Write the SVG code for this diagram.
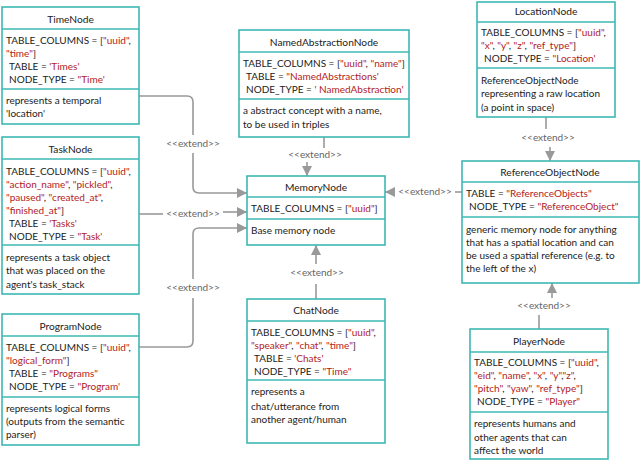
<svg xmlns="http://www.w3.org/2000/svg" width="640" height="461" viewBox="0 0 640 461">
<style>
.box{fill:#fff;stroke:#3db8b4;stroke-width:1.6}
.div{stroke:#3db8b4;stroke-width:1.4}
text{font-family:Lato,"Open Sans","Liberation Sans",sans-serif;font-size:10px;fill:#222}
.t{font-size:10.2px;text-anchor:middle;fill:#222}
.s{fill:#b22222}
.lbl{font-size:10px;fill:#666;text-anchor:middle}
.c{fill:none;stroke:#999;stroke-width:1.6}
</style>
<defs>
<marker id="ah" markerUnits="userSpaceOnUse" markerWidth="11" markerHeight="11" refX="10" refY="5" orient="auto">
<path d="M0,0 L10,5 L0,10 z" fill="#999"/>
</marker>
</defs>
<rect width="640" height="461" fill="#fff"/>
<g id="connectors">
<path class="c" d="M139,96 H187 Q193,96 193,102 V135"/>
<path class="c" d="M193,153 V187 Q193,193 199,193 H247" marker-end="url(#ah)"/>
<text class="lbl" x="193" y="147">&lt;&lt;extend&gt;&gt;</text>
<path class="c" d="M139,214 H163"/>
<path class="c" d="M223,212 H247" marker-end="url(#ah)"/>
<text class="lbl" x="193" y="217">&lt;&lt;extend&gt;&gt;</text>
<path class="c" d="M139,347 H187 Q193,347 193,341 V298"/>
<path class="c" d="M193,279 V234 Q193,228 199,228 H247" marker-end="url(#ah)"/>
<text class="lbl" x="193" y="291">&lt;&lt;extend&gt;&gt;</text>
<path class="c" d="M324,137 V148"/>
<path class="c" d="M307,162 V176" marker-end="url(#ah)"/>
<text class="lbl" x="315" y="158">&lt;&lt;extend&gt;&gt;</text>
<path class="c" d="M316,264 V245" marker-end="url(#ah)"/>
<path class="c" d="M316,284 V299"/>
<text class="lbl" x="317" y="276">&lt;&lt;extend&gt;&gt;</text>
<path class="c" d="M546,117 V129"/>
<path class="c" d="M550,147 V161" marker-end="url(#ah)"/>
<text class="lbl" x="548" y="141">&lt;&lt;extend&gt;&gt;</text>
<path class="c" d="M462,192 H455"/>
<path class="c" d="M395,192 H385" marker-end="url(#ah)"/>
<text class="lbl" x="425" y="195">&lt;&lt;extend&gt;&gt;</text>
<path class="c" d="M552,298 V283" marker-end="url(#ah)"/>
<path class="c" d="M539,315 V329"/>
<text class="lbl" x="544" y="309">&lt;&lt;extend&gt;&gt;</text>
</g>
<g id="TimeNode">
<rect class="box" x="2" y="7" width="137" height="117"/>
<line class="div" x1="2" y1="29" x2="139" y2="29"/>
<line class="div" x1="2" y1="89" x2="139" y2="89"/>
<text class="t" x="70.5" y="23">TimeNode</text>
<text x="6" y="44">TABLE_COLUMNS = [<tspan class="s">"uuid"</tspan>,</text>
<text x="6" y="57"><tspan class="s">"time"</tspan>]</text>
<text x="9" y="70">TABLE = <tspan class="s">'Times'</tspan></text>
<text x="9" y="83">NODE_TYPE = <tspan class="s">"Time'</tspan></text>
<text x="6" y="104">represents a temporal</text>
<text x="6" y="117">'location'</text>
</g>
<g id="TaskNode">
<rect class="box" x="2" y="137" width="137" height="157"/>
<line class="div" x1="2" y1="159" x2="139" y2="159"/>
<line class="div" x1="2" y1="245" x2="139" y2="245"/>
<text class="t" x="70.5" y="153">TaskNode</text>
<text x="6" y="175">TABLE_COLUMNS = [<tspan class="s">"uuid"</tspan>,</text>
<text x="6" y="188"><tspan class="s">"action_name"</tspan>, <tspan class="s">"pickled"</tspan>,</text>
<text x="6" y="201"><tspan class="s">"paused"</tspan>, <tspan class="s">"created_at"</tspan>,</text>
<text x="6" y="214"><tspan class="s">"finished_at"</tspan>]</text>
<text x="9" y="227">TABLE = <tspan class="s">'Tasks'</tspan></text>
<text x="9" y="240">NODE_TYPE = <tspan class="s">"Task'</tspan></text>
<text x="6" y="261">represents a task object</text>
<text x="6" y="274">that was placed on the</text>
<text x="6" y="288">agent's task_stack</text>
</g>
<g id="ProgramNode">
<rect class="box" x="2" y="314" width="137" height="131"/>
<line class="div" x1="2" y1="336" x2="139" y2="336"/>
<line class="div" x1="2" y1="397" x2="139" y2="397"/>
<text class="t" x="70.5" y="330">ProgramNode</text>
<text x="6" y="351">TABLE_COLUMNS = [<tspan class="s">"uuid"</tspan>,</text>
<text x="6" y="364"><tspan class="s">"logical_form"</tspan>]</text>
<text x="9" y="377">TABLE = <tspan class="s">"Programs"</tspan></text>
<text x="9" y="390">NODE_TYPE = <tspan class="s">"Program'</tspan></text>
<text x="6" y="412">represents logical forms</text>
<text x="6" y="425">(outputs from the semantic</text>
<text x="6" y="438">parser)</text>
</g>
<g id="NamedAbstractionNode">
<rect class="box" x="239" y="30" width="170" height="107"/>
<line class="div" x1="239" y1="52" x2="409" y2="52"/>
<line class="div" x1="239" y1="99" x2="409" y2="99"/>
<text class="t" x="324" y="46">NamedAbstractionNode</text>
<text x="243" y="67">TABLE_COLUMNS = [<tspan class="s">"uuid"</tspan>, <tspan class="s">"name"</tspan>]</text>
<text x="246" y="80">TABLE = <tspan class="s">"NamedAbstractions'</tspan></text>
<text x="246" y="93">NODE_TYPE = <tspan class="s">' NamedAbstraction'</tspan></text>
<text x="243" y="114">a abstract concept with a name,</text>
<text x="243" y="128">to be used in triples</text>
</g>
<g id="MemoryNode">
<rect class="box" x="247" y="176" width="138" height="69"/>
<line class="div" x1="247" y1="197" x2="385" y2="197"/>
<line class="div" x1="247" y1="219" x2="385" y2="219"/>
<text class="t" x="316" y="191">MemoryNode</text>
<text x="251" y="212">TABLE_COLUMNS = [<tspan class="s">"uuid"</tspan>]</text>
<text x="251" y="234">Base memory node</text>
</g>
<g id="ChatNode">
<rect class="box" x="247" y="299" width="138" height="144"/>
<line class="div" x1="247" y1="321" x2="385" y2="321"/>
<line class="div" x1="247" y1="380" x2="385" y2="380"/>
<text class="t" x="316" y="314">ChatNode</text>
<text x="251" y="336">TABLE_COLUMNS = [<tspan class="s">"uuid"</tspan>,</text>
<text x="251" y="349"><tspan class="s">"speaker"</tspan>, <tspan class="s">"chat"</tspan>, <tspan class="s">"time"</tspan>]</text>
<text x="254" y="362">TABLE = <tspan class="s">'Chats'</tspan></text>
<text x="254" y="375">NODE_TYPE = <tspan class="s">"Time"</tspan></text>
<text x="251" y="395">represents a</text>
<text x="251" y="410">chat/utterance from</text>
<text x="251" y="423">another agent/human</text>
</g>
<g id="LocationNode">
<rect class="box" x="477" y="2" width="138" height="115"/>
<line class="div" x1="477" y1="22" x2="615" y2="22"/>
<line class="div" x1="477" y1="68" x2="615" y2="68"/>
<text class="t" x="546" y="15">LocationNode</text>
<text x="481" y="36">TABLE_COLUMNS = [<tspan class="s">"uuid"</tspan>,</text>
<text x="481" y="49"><tspan class="s">"x"</tspan>, <tspan class="s">"y"</tspan>, <tspan class="s">"z"</tspan>, <tspan class="s">"ref_type"</tspan>]</text>
<text x="484" y="62">NODE_TYPE = <tspan class="s">"Location'</tspan></text>
<text x="481" y="84">ReferenceObjectNode</text>
<text x="481" y="97">representing a raw location</text>
<text x="481" y="111">(a point in space)</text>
</g>
<g id="ReferenceObjectNode">
<rect class="box" x="462" y="161" width="177" height="122"/>
<line class="div" x1="462" y1="182" x2="639" y2="182"/>
<line class="div" x1="462" y1="217" x2="639" y2="217"/>
<text class="t" x="550" y="176">ReferenceObjectNode</text>
<text x="466" y="197">TABLE = <tspan class="s">"ReferenceObjects"</tspan></text>
<text x="469" y="210">NODE_TYPE = <tspan class="s">"ReferenceObject"</tspan></text>
<text x="466" y="233">generic memory node for anything</text>
<text x="466" y="246">that has a spatial location and can</text>
<text x="466" y="259">be used a spatial reference (e.g. to</text>
<text x="466" y="272">the left of the x)</text>
</g>
<g id="PlayerNode">
<rect class="box" x="470" y="329" width="138" height="130"/>
<line class="div" x1="470" y1="352" x2="608" y2="352"/>
<line class="div" x1="470" y1="412" x2="608" y2="412"/>
<text class="t" x="539" y="345">PlayerNode</text>
<text x="474" y="366">TABLE_COLUMNS = [<tspan class="s">"uuid"</tspan>,</text>
<text x="474" y="379"><tspan class="s">"eid"</tspan>, <tspan class="s">"name"</tspan>, <tspan class="s">"x"</tspan>, <tspan class="s">"y"</tspan>,<tspan class="s">"z"</tspan>,</text>
<text x="474" y="392"><tspan class="s">"pitch"</tspan>, <tspan class="s">"yaw"</tspan>, <tspan class="s">"ref_type"</tspan>]</text>
<text x="477" y="405">NODE_TYPE = <tspan class="s">"Player"</tspan></text>
<text x="474" y="427">represents humans and</text>
<text x="474" y="441">other agents that can</text>
<text x="474" y="454">affect the world</text>
</g>
</svg>
